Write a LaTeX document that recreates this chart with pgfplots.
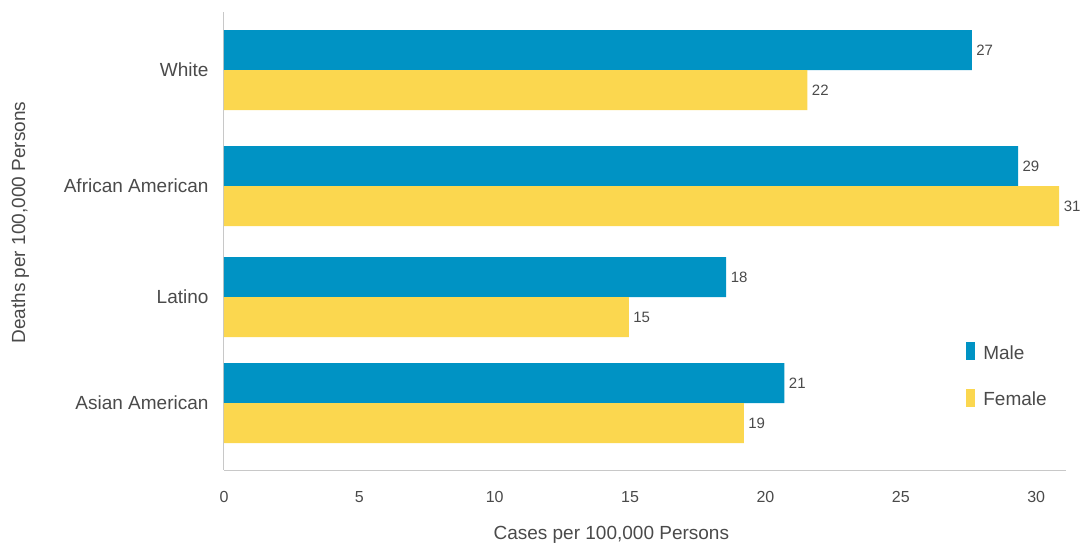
\documentclass[border=0pt]{standalone}
\usepackage{pgfplots}
\usepackage{pgfplotstable}
\pgfplotsset{compat=1.18}
\usepackage{fontspec}
\setmainfont{Liberation Sans}
\definecolor{mblue}{HTML}{0093C4}
\definecolor{fyellow}{HTML}{FBD74F}
\definecolor{txt}{HTML}{4A4A4A}
\definecolor{axl}{HTML}{C8C8C8}
\pgfplotstableread{
pos val lab
70 27.62 27
186 29.33 29
297 18.55 18
403 20.7 21
}\male
\pgfplotstableread{
pos val lab
70 21.55 22
186 30.85 31
297 14.95 15
403 19.2 19
}\female
\begin{document}
\begin{tikzpicture}[x=1pt,y=1pt]
\useasboundingbox (0,0) rectangle (1084,547);
\begin{axis}[
  at={(224pt,77pt)}, anchor=south west,
  scale only axis, width=842pt, height=458pt,
  xbar, bar width=40,
  y dir=reverse,
  xmin=0, xmax=31.1, ymin=12, ymax=470,
  axis x line=bottom, axis y line=left,
  axis line style={draw=axl, line width=1pt, -},
  xtick={0,5,...,30}, ytick={70,186,297,403},
  yticklabels={White,African American,Latino,Asian American},
  major tick length=0pt,
  tick style={draw=none},
  ticklabel style={text=txt, font=\fontsize{16}{19}\selectfont},
  x tick label style={yshift=-18pt},
  y tick label style={xshift=-12pt, font=\fontsize{19}{22}\selectfont},
  /pgf/number format/assume math mode=true,
  xlabel={Cases per 100,000 Persons},
  ylabel={Deaths per 100,000 Persons},
  label style={text=txt, font=\fontsize{19}{22}\selectfont},
  xlabel style={at={(rel axis cs:0.46,0)}, anchor=center, yshift=-65pt},
  ylabel style={at={(axis description cs:-0.242,0.54)}, anchor=center},
  nodes near coords,
  point meta=explicit symbolic,
  every node near coord/.append style={anchor=west, text=txt, font=\fontsize{15}{17}\selectfont, xshift=1pt},
  legend style={at={(axis cs:27.3,340)}, anchor=north west, draw=none, fill=none,
    font=\fontsize{19}{22}\selectfont, text=txt, row sep=26pt},
  legend cell align=left,
  clip=false,
]
\addplot[fill=mblue, draw=none, bar shift=-20,
  legend image code/.code={\fill[mblue] (0pt,-7pt) rectangle (9pt,11pt);}]
  table[x=val, y=pos, meta=lab] {\male};
\addlegendentry{\hspace{6pt}Male}
\addplot[fill=fyellow, draw=none, bar shift=20,
  legend image code/.code={\fill[fyellow] (0pt,-7pt) rectangle (9pt,11pt);}]
  table[x=val, y=pos, meta=lab] {\female};
\addlegendentry{\hspace{6pt}Female}
\end{axis}
\end{tikzpicture}
\end{document}
